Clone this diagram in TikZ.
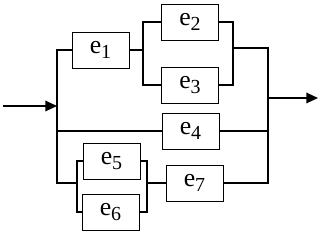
\documentclass[tikz,border=0pt]{standalone}
\usepackage{fontspec}
\setmainfont{Liberation Serif}
\usetikzlibrary{arrows.meta}
\newcommand{\elem}[1]{e\raisebox{-0.35ex}{\fontsize{17}{17}\selectfont #1}}
\begin{document}
\begin{tikzpicture}[x=0.03cm, y=-0.03cm,
  blk/.style={draw, line width=0.6pt, minimum width=1.71cm, minimum height=1.08cm, inner sep=0pt, font=\fontsize{22}{22}\selectfont},
  wire/.style={line width=1.4pt}]
  \useasboundingbox (0,0) rectangle (326,234);

  % elements
  \node[blk] (e1) at (100.5,50) {\elem{1}};
  \node[blk] (e2) at (190,22) {\elem{2}};
  \node[blk] (e3) at (190,85) {\elem{3}};
  \node[blk] (e4) at (190.5,131) {\elem{4}};
  \node[blk] (e5) at (111.5,161) {\elem{5}};
  \node[blk] (e6) at (110.5,212) {\elem{6}};
  \node[blk] (e7) at (194.5,183) {\elem{7}};

  % junction points
  \coordinate (src) at (3,106);
  \coordinate (busL) at (57,106);
  \coordinate (qL) at (143,50);
  \coordinate (qR) at (233,48);
  \coordinate (pL) at (77,183);
  \coordinate (pR) at (147,183);
  \coordinate (busR) at (268,98);
  \coordinate (dst) at (318,98);

  % input
  \draw[wire, -{Triangle[length=10pt,width=9pt]}] (src) -- (busL);
  \draw[wire] (e1.west) -| (busL);
  \draw[wire] (busL) |- (e4.west);
  \draw[wire] (busL) |- (pL);

  % e2 || e3
  \draw[wire] (e1.east) -- (qL);
  \draw[wire] (e2.west) -| (qL) |- (e3.west);
  \draw[wire] (e2.east) -| (qR) |- (e3.east);

  % e5 || e6
  \draw[wire] (e5.west) -| (pL) |- (e6.west);
  \draw[wire] (e5.east) -| (pR) |- (e6.east);
  \draw[wire] (pR) -- (e7.west);

  % output
  \draw[wire] (qR) -| (busR);
  \draw[wire] (e4.east) -| (busR);
  \draw[wire] (e7.east) -| (busR);
  \draw[wire, -{Triangle[length=10pt,width=9pt]}] (busR) -- (dst);
\end{tikzpicture}
\end{document}
